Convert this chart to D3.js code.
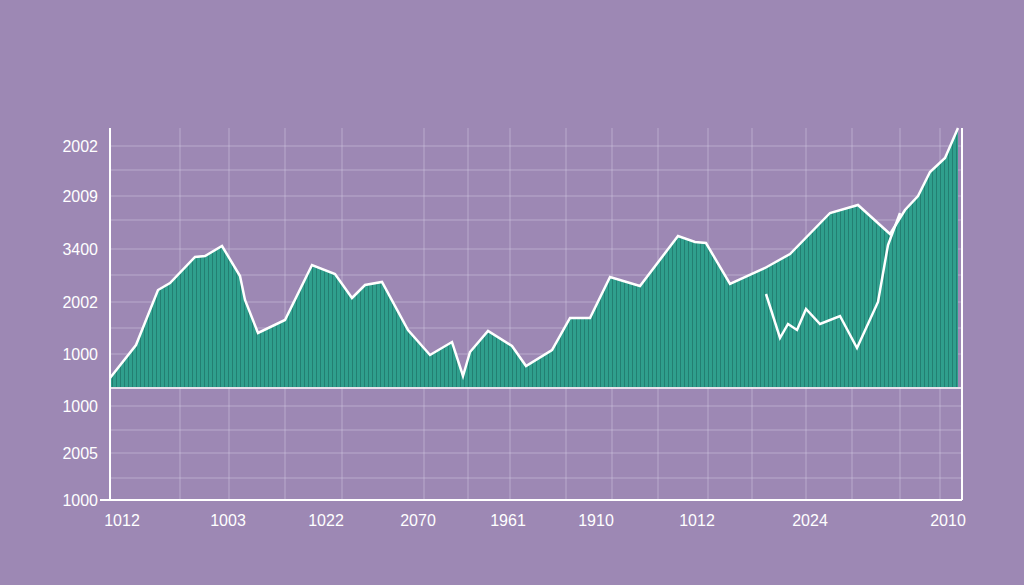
<!DOCTYPE html>
<html><head><meta charset="utf-8">
<script src="https://cdn.jsdelivr.net/npm/d3@7"></script>
<style>body{margin:0;background:#9d88b4;}svg{display:block}</style>
</head><body><svg id="c" width="1024" height="585"></svg>
<script>
// data (positions along x in 0..852, values in 0..259 above baseline)
const areaX = [0,26,48,60,85,95,112,130,135,148,175,202,225,242,255,272,298,320,342,353,360,378,402,416,442,460,480,500,530,568,585,596,620,655,680,720,748,780,795,808,820,835,848];
const areaY = [9,42,97,104,130,131,141,111,87,54,67,122,113,89,102,105,57,32,45,11,35,56,41,21,37,69,69,110,101,151,145,144,103,119,133,174,182,153,177,191,215,229,259];
const lineX = [656,670,678,687,696,710,730,747,768,778,790];
const lineY = [93,49,63,57,78,63,71,39,85,142,174];
const yTickLabels = ["2002","2009","3400","2002","1000","1000","2005","1000"];
const yTickPos = [241,191,138,85,33,-19,-66,-113];
const xTickLabels = ["1012","1003","1022","2070","1961","1910","1012","2024","2010"];
const xTickPos = [12,118,216,308,398,486,587,700,838];

const svg = d3.select("#c");
const x = d3.scaleLinear().domain([0,852]).range([110,962]);
const y = d3.scaleLinear().domain([0,259]).range([387,128]);

const defs = svg.append("defs");
const pat = defs.append("pattern").attr("id","st").attr("width",4).attr("height",10).attr("patternUnits","userSpaceOnUse");
pat.append("rect").attr("width",4).attr("height",10).attr("fill","#2f9f8d");
pat.append("rect").attr("width",1).attr("height",10).attr("fill","#237f72");

const gridColor = "rgba(210,200,225,0.55)";
const hg = [146,170,196,220,249,275,302,328,354,406,430,453,478];
hg.forEach(v=>svg.append("line").attr("x1",110).attr("x2",962).attr("y1",v).attr("y2",v).attr("stroke",gridColor));
const vg = [180,229,285,342,424,468,510,566,612,658,708,752,806,852,900,940];
vg.forEach(v=>svg.append("line").attr("x1",v).attr("x2",v).attr("y1",128).attr("y2",500).attr("stroke",gridColor));

const area = d3.area().x((d,i)=>x(areaX[i])).y0(y(0)).y1(d=>y(d));
svg.append("path").datum(areaY).attr("d",area).attr("fill","url(#st)");
const ln = d3.line().x((d,i)=>x(areaX[i])).y(d=>y(d));
svg.append("path").datum(areaY).attr("d",ln).attr("fill","none").attr("stroke","#fff").attr("stroke-width",2.5);
const ln2 = d3.line().x((d,i)=>x(lineX[i])).y(d=>y(d));
svg.append("path").datum(lineY).attr("d",ln2).attr("fill","none").attr("stroke","#fff").attr("stroke-width",2.5);
svg.append("line").attr("x1",110).attr("x2",962).attr("y1",388).attr("y2",388).attr("stroke","#fff").attr("stroke-width",1.5);

svg.append("line").attr("x1",110).attr("x2",110).attr("y1",128).attr("y2",500).attr("stroke","#fff").attr("stroke-width",2);
svg.append("line").attr("x1",962).attr("x2",962).attr("y1",128).attr("y2",500).attr("stroke","#fff").attr("stroke-width",2);
svg.append("line").attr("x1",100).attr("x2",962).attr("y1",500).attr("y2",500).attr("stroke","#fff").attr("stroke-width",2);

svg.selectAll(".yl").data(yTickLabels).join("text").attr("x",98).attr("y",(d,i)=>y(yTickPos[i])+6)
 .attr("text-anchor","end").attr("font-family","Liberation Sans, Arial").attr("font-size",16).attr("fill","#fff").text(d=>d);
svg.selectAll(".xl").data(xTickLabels).join("text").attr("x",(d,i)=>x(xTickPos[i])).attr("y",526)
 .attr("text-anchor","middle").attr("font-family","Liberation Sans, Arial").attr("font-size",16).attr("fill","#fff").text(d=>d);
</script></body></html>
